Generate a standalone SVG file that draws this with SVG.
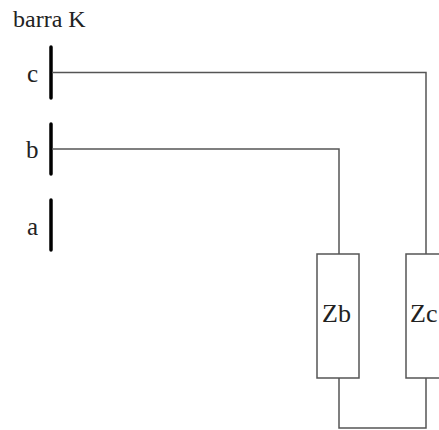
<svg xmlns="http://www.w3.org/2000/svg" width="439" height="430" viewBox="0 0 439 430">
<style>
.bar{stroke:#000;stroke-width:3.5;stroke-linecap:round}
.w{fill:none;stroke:#555;stroke-width:1.5}
.box{fill:#fff;stroke:#555;stroke-width:1.5}
.t{font-family:"Liberation Serif",serif;font-size:25px;fill:#222}
</style>
<rect width="439" height="430" fill="#fff"/>
<text class="t" x="13" y="27" style="font-size:24px">barra K</text>
<g id="bus-c"><line class="bar" x1="51" y1="47" x2="51" y2="98"/><text class="t" x="27" y="82">c</text></g>
<g id="bus-b"><line class="bar" x1="51" y1="124" x2="51" y2="174"/><text class="t" x="26" y="158">b</text></g>
<g id="bus-a"><line class="bar" x1="51" y1="200" x2="51" y2="250"/><text class="t" x="27" y="235">a</text></g>
<g id="connectors">
<polyline class="w" points="52,72.5 426,72.5 426,254"/>
<polyline class="w" points="52,149 339,149 339,254"/>
<polyline class="w" points="339,378 339,428 426,428 426,378"/>
</g>
<g id="Zb"><rect class="box" x="317" y="254" width="42" height="124"/><text class="t" x="322" y="322" style="font-size:26px">Zb</text></g>
<g id="Zc"><rect class="box" x="406" y="254" width="42" height="124"/><text class="t" x="410" y="322" style="font-size:26px">Zc</text></g>
</svg>
